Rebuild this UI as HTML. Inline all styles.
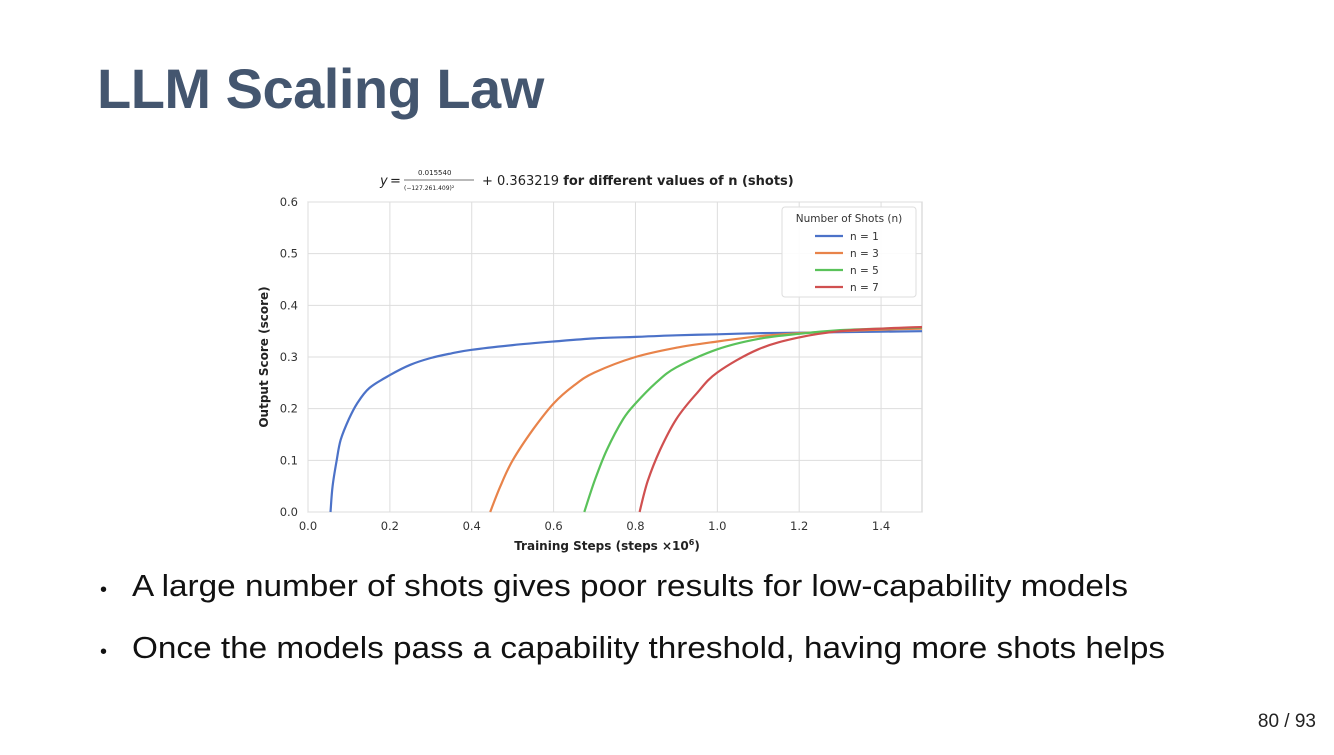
<!DOCTYPE html>
<html><head><meta charset="utf-8"><style>
body{margin:0;background:#fff;width:1334px;height:750px;overflow:hidden;font-family:"Liberation Sans",sans-serif;position:relative}
#title{position:absolute;left:97px;top:55px;font-size:56px;font-weight:bold;color:#44566f;line-height:68px;letter-spacing:-0.5px;margin:0}
</style></head><body>
<h1 id="title">LLM Scaling Law</h1>
<svg id="s" width="1334" height="750" xmlns="http://www.w3.org/2000/svg">
<g font-family="DejaVu Sans, sans-serif" fill="#222">
<text x="380" y="185" font-size="13" font-style="italic">y</text>
<text x="390" y="185" font-size="13">=</text>
<text x="418" y="175" font-size="7">0.015540</text>
<line x1="404" y1="180" x2="474" y2="180" stroke="#444" stroke-width="0.8"/>
<text x="404" y="190" font-size="6">(−127.261.409)²</text>
<text x="482" y="185" font-size="13">+ 0.363219 <tspan font-weight="bold">for different values of n (shots)</tspan></text>
</g>
<g id="plot"></g>
<g font-size="31" fill="#111">
<text x="100" y="596" font-size="20">•</text>
<text x="132" y="596" textLength="996" lengthAdjust="spacingAndGlyphs">A large number of shots gives poor results for low-capability models</text>
<text x="100" y="658" font-size="20">•</text>
<text x="132" y="658" textLength="1033" lengthAdjust="spacingAndGlyphs">Once the models pass a capability threshold, having more shots helps</text>
</g>
<text x="1316" y="727" font-size="19" text-anchor="end" fill="#222">80 / 93</text>
</svg>
<script>
const xTicks=[0,0.2,0.4,0.6,0.8,1.0,1.2,1.4];
const xTickLabels=["0.0","0.2","0.4","0.6","0.8","1.0","1.2","1.4"];
const yTicks=[0,0.1,0.2,0.3,0.4,0.5,0.6];
const yTickLabels=["0.0","0.1","0.2","0.3","0.4","0.5","0.6"];
const seriesNames=["n = 1","n = 3","n = 5","n = 7"];
const n1X=[0.055,0.06,0.07,0.08,0.1,0.12,0.15,0.2,0.25,0.3,0.35,0.4,0.5,0.6,0.7,0.8,0.9,1.0,1.1,1.2,1.3,1.4,1.5];
const n1Y=[0,0.05,0.1,0.14,0.18,0.21,0.24,0.265,0.285,0.298,0.307,0.314,0.323,0.33,0.336,0.339,0.342,0.344,0.346,0.347,0.348,0.349,0.35];
const n3X=[0.445,0.47,0.5,0.55,0.6,0.65,0.7,0.8,0.9,1.0,1.1,1.2,1.3,1.4,1.5];
const n3Y=[0,0.05,0.1,0.16,0.21,0.245,0.27,0.3,0.318,0.33,0.34,0.346,0.35,0.353,0.355];
const n5X=[0.675,0.7,0.73,0.77,0.8,0.85,0.9,1.0,1.1,1.2,1.3,1.4,1.5];
const n5Y=[0,0.06,0.12,0.18,0.21,0.25,0.28,0.315,0.335,0.345,0.352,0.355,0.357];
const n7X=[0.81,0.83,0.86,0.9,0.95,1.0,1.1,1.2,1.3,1.4,1.5];
const n7Y=[0,0.06,0.12,0.18,0.23,0.27,0.315,0.338,0.35,0.355,0.358];
const colors=["#4c72c8","#e8834a","#5ac25a","#d05050"];
const L=308,R=922,T=202,B=512,XMAX=1.5,YMAX=0.6;
const sx=v=>L+v/XMAX*(R-L), sy=v=>B-v/YMAX*(B-T);
const NS="http://www.w3.org/2000/svg", g=document.getElementById('plot');
function mk(t,a,p){const e=document.createElementNS(NS,t);for(const k in a)e.setAttribute(k,a[k]);(p||g).appendChild(e);return e;}
const bg=mk('rect',{x:L,y:T,width:R-L,height:B-T,fill:'#fff',stroke:'#ccc'});


xTicks.forEach((v,i)=>{
 const l=mk('line',{x1:sx(v),x2:sx(v),y1:T,y2:B,stroke:'#ddd'});
 
 
 const t=mk('text',{x:sx(v),y:B+18,'font-size':11.5,'text-anchor':'middle',fill:'#333','font-family':'DejaVu Sans, sans-serif'});
 
 
 t.textContent=xTickLabels[i];
});
yTicks.forEach((v,i)=>{
 const l=mk('line',{x1:L,x2:R,y1:sy(v),y2:sy(v),stroke:'#ddd'});
 
 
 const t=mk('text',{x:L-10,y:sy(v)+4,'font-size':11.5,'text-anchor':'end',fill:'#333','font-family':'DejaVu Sans, sans-serif'});
 
 
 t.textContent=yTickLabels[i];
});
const xt=mk('text',{x:(L+R)/2-8,y:B+38,'font-size':12,'font-weight':'bold','text-anchor':'middle',fill:'#222','font-family':'DejaVu Sans, sans-serif'});


xt.innerHTML='Training Steps (steps ×10<tspan font-size="8" dy="-5">6</tspan><tspan dy="5">)</tspan>';
const yt=mk('text',{x:0,y:0,transform:`translate(268,${(T+B)/2}) rotate(-90)`,'font-size':12,'font-weight':'bold','text-anchor':'middle',fill:'#222','font-family':'DejaVu Sans, sans-serif'});


yt.textContent='Output Score (score)';
const XS=[n1X,n3X,n5X,n7X], YS=[n1Y,n3Y,n5Y,n7Y];
function smooth(pts){
 let d='M'+pts[0][0].toFixed(1)+','+pts[0][1].toFixed(1);
 for(let i=0;i<pts.length-1;i++){
  const p0=pts[i-1]||pts[i],p1=pts[i],p2=pts[i+1],p3=pts[i+2]||p2;
  const c1=[p1[0]+(p2[0]-p0[0])/6,p1[1]+(p2[1]-p0[1])/6];
  const c2=[p2[0]-(p3[0]-p1[0])/6,p2[1]-(p3[1]-p1[1])/6];
  d+=` C${c1[0].toFixed(1)},${c1[1].toFixed(1)} ${c2[0].toFixed(1)},${c2[1].toFixed(1)} ${p2[0].toFixed(1)},${p2[1].toFixed(1)}`;
 }
 return d;
}
XS.forEach((xs,i)=>{
 const pts=xs.map((x,j)=>[sx(x),sy(YS[i][j])]);
 const p=mk('path',{d:smooth(pts),fill:'none',stroke:colors[i],'stroke-width':2.2,'stroke-linejoin':'round'});
 
 
});
const lg=mk('g',{});


mk('rect',{x:782,y:207,width:134,height:90,fill:'#fff','fill-opacity':0.9,stroke:'#ddd',rx:3},lg);
const lt=mk('text',{x:849,y:222,'font-size':10.5,'text-anchor':'middle',fill:'#333','font-family':'DejaVu Sans, sans-serif'},lg);
lt.textContent='Number of Shots (n)';
seriesNames.forEach((n,i)=>{
 const y=236+i*17;
 const e=mk('g',{},lg);
 
 
 mk('line',{x1:815,x2:843,y1:y,y2:y,stroke:colors[i],'stroke-width':2.2},e);
 const t=mk('text',{x:850,y:y+4,'font-size':10.5,fill:'#333','font-family':'DejaVu Sans, sans-serif'},e);
 t.textContent=n;
});
</script>
</body></html>
